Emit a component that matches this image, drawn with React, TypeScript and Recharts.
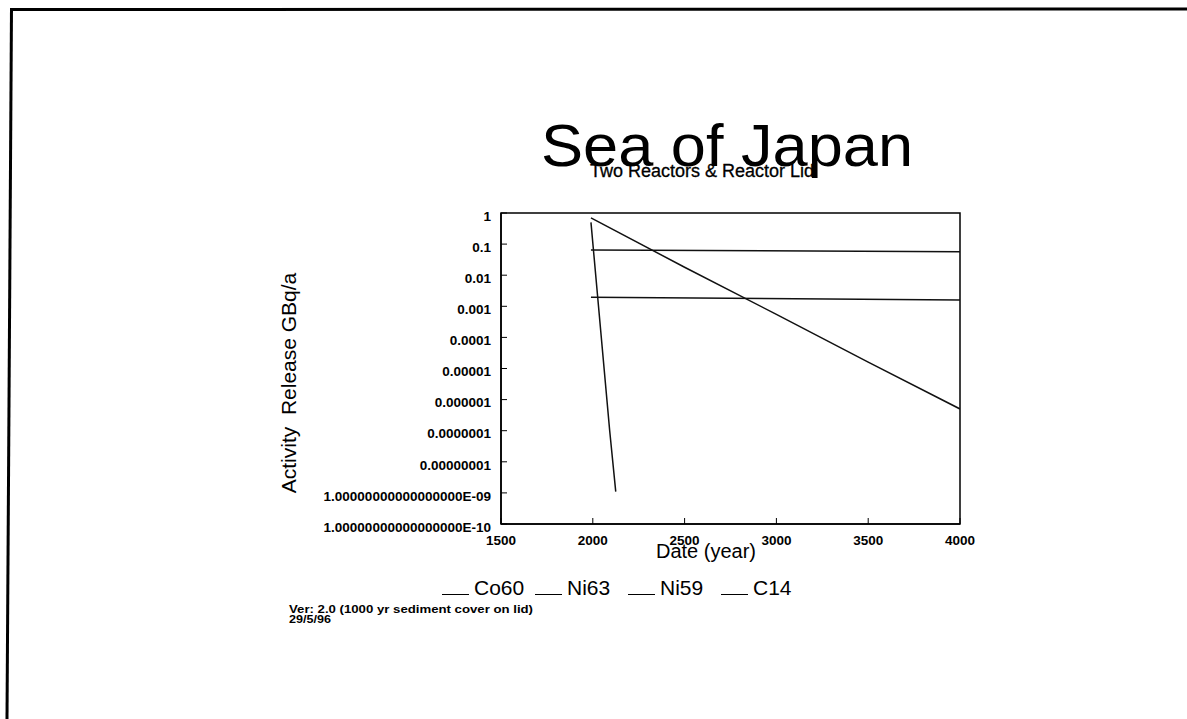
import React from 'react';
import { LineChart, Line, XAxis, YAxis, ReferenceArea, Legend } from 'recharts';

// Release activity (GBq/a) by year for each nuclide
const co60Years = [1990, 2092, 2125];
const co60Values = [0.5, 1e-7, 1.1e-9];

const ni63Years = [1990, 2500, 3000, 3500, 4000];
const ni63Values = [0.7, 0.018, 5.5e-4, 1.6e-5, 5e-7];

const ni59Years = [1990, 4000];
const ni59Values = [0.065, 0.057];

const c14Years = [1990, 4000];
const c14Values = [0.00195, 0.0016];

const seriesNames = ['Co60', 'Ni63', 'Ni59', 'C14'];

const xTicks = [1500, 2000, 2500, 3000, 3500, 4000];
const yTicks = [1, 0.1, 0.01, 0.001, 0.0001, 0.00001, 0.000001, 0.0000001, 0.00000001, 1e-9, 1e-10];
const yTickLabels = [
  '1',
  '0.1',
  '0.01',
  '0.001',
  '0.0001',
  '0.00001',
  '0.000001',
  '0.0000001',
  '0.00000001',
  '1.00000000000000000E-09',
  '1.00000000000000000E-10',
];

const toPoints = (years: number[], values: number[]) =>
  years.map((year, i) => ({ year, v: values[i] }));

const series = [
  { name: seriesNames[0], data: toPoints(co60Years, co60Values) },
  { name: seriesNames[1], data: toPoints(ni63Years, ni63Values) },
  { name: seriesNames[2], data: toPoints(ni59Years, ni59Values) },
  { name: seriesNames[3], data: toPoints(c14Years, c14Values) },
];

const FONT = '"Liberation Sans", Arial, Helvetica, sans-serif';

const labelFor = (v: number) => {
  const idx = yTicks.findIndex((t) => Math.abs(Math.log10(t) - Math.log10(v)) < 1e-6);
  return idx >= 0 ? yTickLabels[idx] : String(v);
};

const YTick = (props: any) => {
  const { x, y, payload } = props;
  return (
    <text x={x} y={y + 3} dy="0.35em" textAnchor="end" fontFamily={FONT} fontWeight="bold" fontSize={13.5} fill="#000">
      {labelFor(payload.value)}
    </text>
  );
};

const XTick = (props: any) => {
  const { x, y, payload } = props;
  return (
    <text x={x} y={y} dy="0.71em" textAnchor="middle" fontFamily={FONT} fontWeight="bold" fontSize={13.5} fill="#000">
      {payload.value}
    </text>
  );
};

const LegendRow = () => (
  <div style={{ display: 'flex', fontFamily: FONT, fontSize: 21, lineHeight: '21px', color: '#000' }}>
    {seriesNames.map((name) => (
      <div key={name} style={{ width: 93, whiteSpace: 'nowrap' }}>
        <span
          style={{
            display: 'inline-block',
            width: 27,
            height: 0,
            borderBottom: '1.5px solid #000',
            marginRight: 5,
            verticalAlign: 'baseline',
          }}
        />
        <span>{name}</span>
      </div>
    ))}
  </div>
);

export default function App() {
  return (
    <div style={{ position: 'absolute', left: 0, top: 0, width: 1187, height: 719, background: '#fff', overflow: 'hidden' }}>
      <LineChart
        width={1187}
        height={719}
        margin={{ top: 213, right: 227, bottom: 155, left: 301 }}
      >
        <XAxis
          dataKey="year"
          type="number"
          domain={[1500, 4000]}
          ticks={xTicks}
          interval={0}
          height={40}
          allowDataOverflow
          axisLine={{ stroke: '#000', strokeWidth: 1.5 }}
          tickLine={{ stroke: '#000', strokeWidth: 1 }}
          tickSize={-6}
          tickMargin={17}
          tick={<XTick />}
        />
        <YAxis
          type="number"
          scale="log"
          domain={[1e-10, 1]}
          ticks={yTicks}
          interval={0}
          width={200}
          allowDataOverflow
          axisLine={{ stroke: '#000', strokeWidth: 1.5 }}
          tickLine={{ stroke: '#000', strokeWidth: 1 }}
          tickSize={-6}
          tickMargin={16}
          tick={<YTick />}
        />
        <ReferenceArea
          x1={1500}
          x2={4000}
          y1={1e-10}
          y2={1}
          fill="none"
          fillOpacity={0}
          stroke="#000"
          strokeWidth={1.5}
        />
        {series.map((s) => (
          <Line
            key={s.name}
            name={s.name}
            data={s.data}
            dataKey="v"
            type="linear"
            stroke="#111"
            strokeWidth={1.5}
            dot={false}
            activeDot={false}
            isAnimationActive={false}
          />
        ))}
        <Legend
          layout="vertical"
          verticalAlign="middle"
          align="center"
          wrapperStyle={{ top: 577, left: 442, width: 400, height: 24 }}
          content={<LegendRow />}
        />
      </LineChart>

      <svg
        width={1187}
        height={719}
        style={{ position: 'absolute', left: 0, top: 0, pointerEvents: 'none' }}
        fontFamily={FONT}
      >
        {/* page frame */}
        <line x1={11.5} y1={8} x2={7} y2={719} stroke="#000" strokeWidth={3} />
        <line x1={10} y1={9.5} x2={1187} y2={9} stroke="#000" strokeWidth={3} />

        <text x={727} y={166} textAnchor="middle" fontSize={60} fill="#000" textLength={372} lengthAdjust="spacingAndGlyphs">
          Sea of Japan
        </text>
        <text x={702} y={177} textAnchor="middle" fontSize={18} fill="#000" stroke="#000" strokeWidth={0.3}>
          Two Reactors &amp; Reactor Lid
        </text>
        <text
          x={296}
          y={383}
          textAnchor="middle"
          fontSize={21}
          fill="#000"
          transform="rotate(-90 296 383)"
        >
          {'Activity\u00a0\u00a0Release GBq/a'}
        </text>
        <text x={706} y={558} textAnchor="middle" fontSize={20} fill="#000">
          Date (year)
        </text>
        <text x={289} y={613} fontSize={11} fontWeight="bold" fill="#000" textLength={244} lengthAdjust="spacingAndGlyphs">
          Ver: 2.0 (1000 yr sediment cover on lid)
        </text>
        <text x={289} y={623} fontSize={11} fontWeight="bold" fill="#000" textLength={42} lengthAdjust="spacingAndGlyphs">
          29/5/96
        </text>
      </svg>
    </div>
  );
}
